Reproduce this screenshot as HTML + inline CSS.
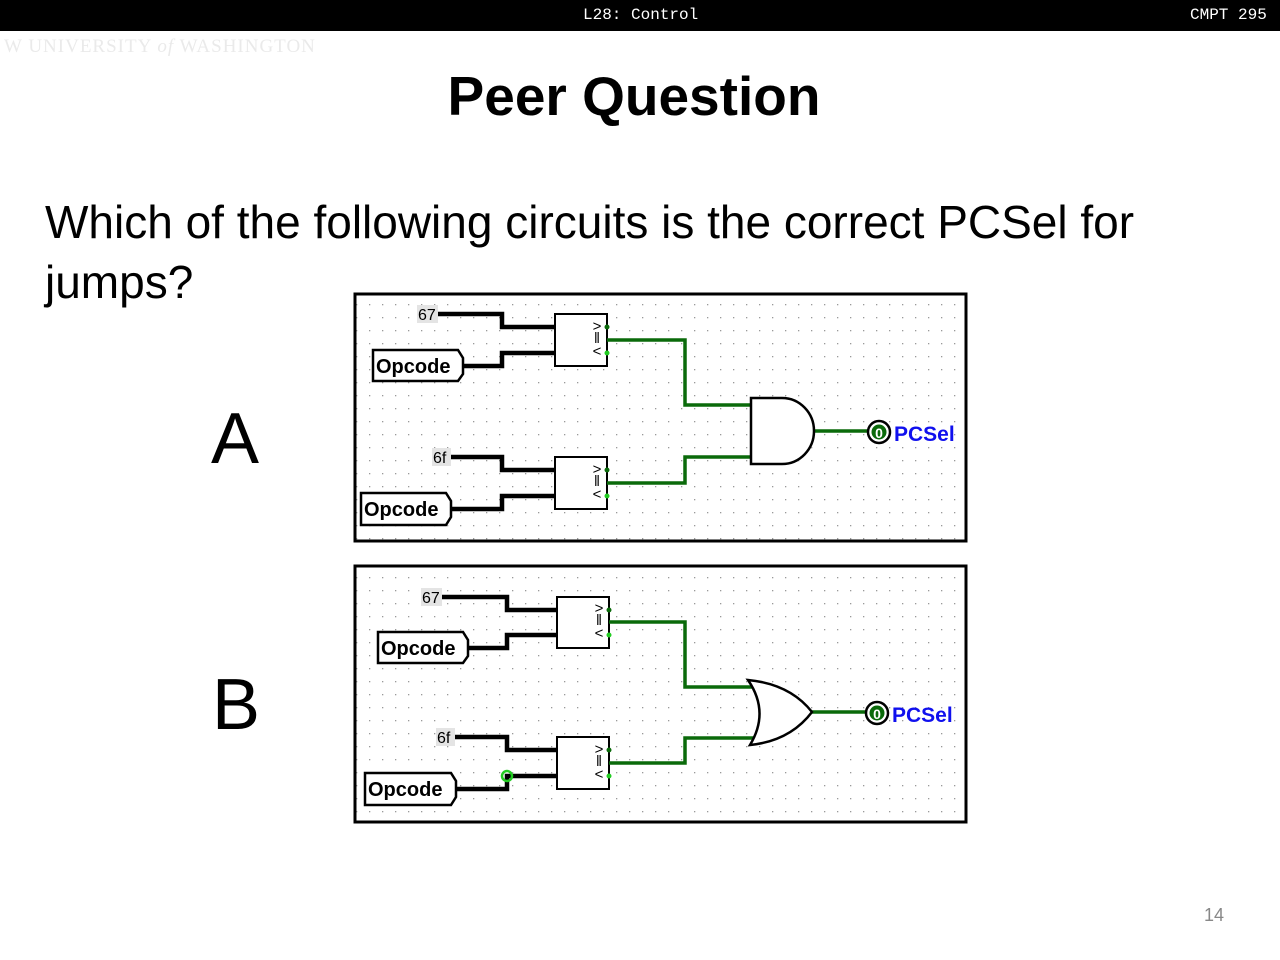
<!DOCTYPE html>
<html><head><meta charset="utf-8"><style>
html,body{margin:0;padding:0;background:#fff;}
body{width:1280px;height:960px;position:relative;overflow:hidden;font-family:"Liberation Sans",sans-serif;}
.hdr{position:absolute;left:0;top:0;width:1280px;height:31px;background:#000;color:#fff;font-family:"Liberation Mono",monospace;font-size:16px;}
.t{position:absolute;white-space:nowrap;}
</style></head><body>
<div class="hdr"><span class="t" style="left:583px;top:6px;">L28: Control</span><span class="t" style="left:1190px;top:6px;">CMPT 295</span></div>
<div class="t" style="left:4px;top:36px;font-family:'Liberation Serif',serif;font-size:19px;color:#eaeaea;letter-spacing:1px;">W UNIVERSITY <i>of</i> WASHINGTON</div>
<div class="t" style="left:0;width:1268px;text-align:center;top:64px;font-size:55px;font-weight:bold;">Peer Question</div>
<div class="t" style="left:45px;top:195px;font-size:46px;">Which of the following circuits is the correct PCSel for</div>
<div class="t" style="left:45px;top:255px;font-size:46px;">jumps?</div>
<div class="t" style="left:211px;top:398px;font-size:72px;">A</div>
<div class="t" style="left:212px;top:664px;font-size:72px;">B</div>
<div class="t" style="left:1204px;top:905px;font-size:18px;color:#888;">14</div>
<svg width="1280" height="960" style="position:absolute;left:0;top:0" font-family="Liberation Sans,sans-serif">
<defs>
<pattern id="dots" x="0" y="0" width="13" height="13" patternUnits="userSpaceOnUse"><rect x="5" y="5" width="1.3" height="1.3" fill="#999"/></pattern>
<g id="cmp" font-size="15" text-anchor="middle">
<text x="0" y="-7">&gt;</text><text x="0" y="5">‖</text><text x="0" y="18">&lt;</text>
</g>
</defs>
<!-- Panel A -->
<rect x="355" y="294" width="611" height="247" fill="url(#dots)" stroke="#000" stroke-width="3"/>
<g fill="none" stroke="#000" stroke-width="4.5">
<path d="M438 314H502V327H555"/><path d="M462 366H502V353H555"/>
<path d="M451 457H502V470H555"/><path d="M450 509H502V496H555"/>
</g>
<rect x="417" y="305" width="21" height="18" fill="#e4e4e4"/><text x="418" y="320" font-size="16">67</text>
<rect x="432" y="448" width="19" height="18" fill="#e4e4e4"/><text x="433" y="463" font-size="16">6f</text>
<path d="M373 350H458L463 358V374L458 381H373Z" fill="#fff" stroke="#000" stroke-width="2.5"/>
<text x="376" y="373" font-size="20" font-weight="bold">Opcode</text>
<path d="M361 493H446L451 501V517L446 525H361Z" fill="#fff" stroke="#000" stroke-width="2.5"/>
<text x="364" y="516" font-size="20" font-weight="bold">Opcode</text>
<rect x="555" y="314" width="52" height="52" fill="#fff" stroke="#000" stroke-width="2"/>
<use href="#cmp" x="597" y="338"/>
<rect x="555" y="457" width="52" height="52" fill="#fff" stroke="#000" stroke-width="2"/>
<use href="#cmp" x="597" y="481"/>
<g fill="none" stroke="#0a6a0a" stroke-width="3.5">
<path d="M607 340H685V405H751"/><path d="M607 483H685V457H751"/><path d="M814 431H868"/>
</g>
<circle cx="607" cy="327" r="2.5" fill="#0a6a0a"/><circle cx="607" cy="353" r="2.5" fill="#2c2"/>
<circle cx="607" cy="470" r="2.5" fill="#0a6a0a"/><circle cx="607" cy="496" r="2.5" fill="#2c2"/>
<path d="M751 398H782A32 33 0 0 1 782 464H751Z" fill="#fff" stroke="#000" stroke-width="2.5"/>
<circle cx="879" cy="432" r="11" fill="#fff" stroke="#000" stroke-width="2.5"/><circle cx="879" cy="432" r="7.5" fill="#0a6a0a"/>
<text x="879" y="438" font-size="14" font-weight="bold" fill="#fff" text-anchor="middle">0</text>
<text x="894" y="441" font-size="21" font-weight="bold" fill="#1010ee">PCSel</text>
<!-- Panel B -->
<rect x="355" y="566" width="611" height="256" fill="url(#dots)" stroke="#000" stroke-width="3"/>
<g fill="none" stroke="#000" stroke-width="4.5">
<path d="M442 597H507V610H557"/><path d="M467 648H507V635H557"/>
<path d="M455 737H507V750H557"/><path d="M455 789H507V776H557"/>
</g>
<rect x="421" y="588" width="21" height="18" fill="#e4e4e4"/><text x="422" y="603" font-size="16">67</text>
<rect x="436" y="728" width="19" height="18" fill="#e4e4e4"/><text x="437" y="743" font-size="16">6f</text>
<path d="M378 632H463L468 640V656L463 663H378Z" fill="#fff" stroke="#000" stroke-width="2.5"/>
<text x="381" y="655" font-size="20" font-weight="bold">Opcode</text>
<path d="M365 773H451L456 781V797L451 805H365Z" fill="#fff" stroke="#000" stroke-width="2.5"/>
<text x="368" y="796" font-size="20" font-weight="bold">Opcode</text>
<circle cx="507" cy="776" r="5" fill="none" stroke="#2c2" stroke-width="2.5"/>
<rect x="557" y="597" width="52" height="51" fill="#fff" stroke="#000" stroke-width="2"/>
<use href="#cmp" x="599" y="620"/>
<rect x="557" y="737" width="52" height="52" fill="#fff" stroke="#000" stroke-width="2"/>
<use href="#cmp" x="599" y="761"/>
<g fill="none" stroke="#0a6a0a" stroke-width="3.5">
<path d="M609 622H685V687H755"/><path d="M609 763H685V738H755"/><path d="M812 712H866"/>
</g>
<circle cx="609" cy="610" r="2.5" fill="#0a6a0a"/><circle cx="609" cy="635" r="2.5" fill="#2c2"/>
<circle cx="609" cy="750" r="2.5" fill="#0a6a0a"/><circle cx="609" cy="776" r="2.5" fill="#2c2"/>
<path d="M748 680Q790 684 812 712Q790 741 750 745Q770 712 748 680Z" fill="#fff" stroke="#000" stroke-width="2.5"/>
<circle cx="877" cy="713" r="11" fill="#fff" stroke="#000" stroke-width="2.5"/><circle cx="877" cy="713" r="7.5" fill="#0a6a0a"/>
<text x="877" y="719" font-size="14" font-weight="bold" fill="#fff" text-anchor="middle">0</text>
<text x="892" y="722" font-size="21" font-weight="bold" fill="#1010ee">PCSel</text>
</svg>
</body></html>
